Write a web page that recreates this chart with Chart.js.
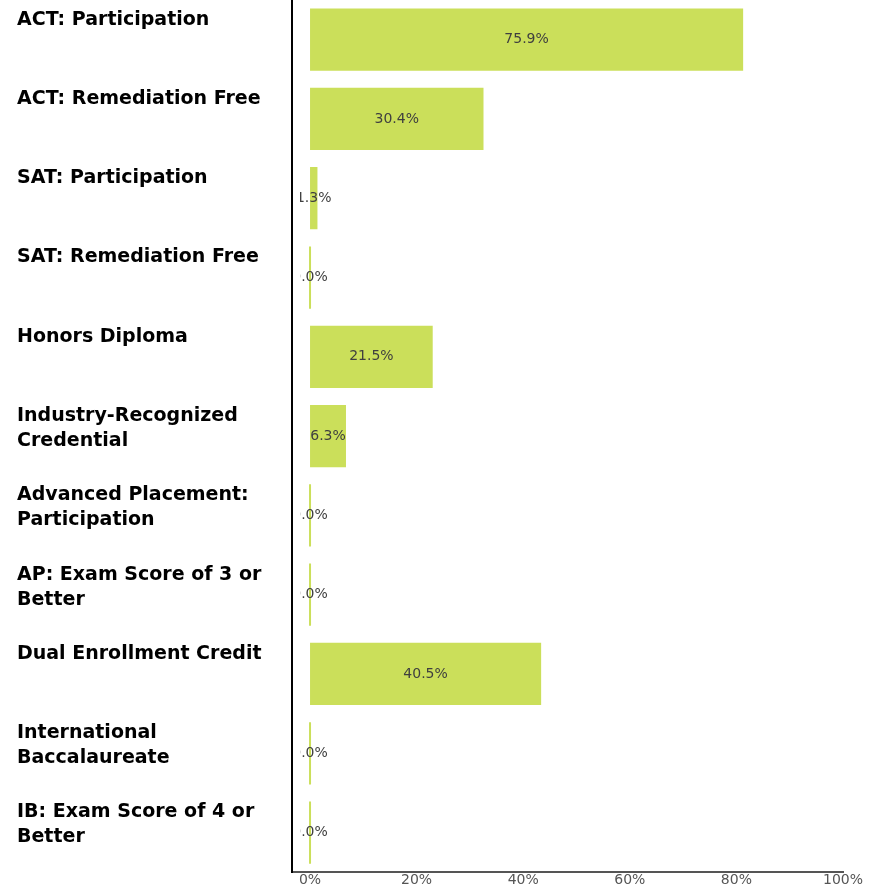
<!DOCTYPE html>
<html>
<head>
<meta charset="utf-8">
<script src="https://cdn.jsdelivr.net/npm/chart.js@4.4.1/dist/chart.umd.min.js"></script>
<style>
  html, body { margin: 0; padding: 0; background: #fff; }
  #wrap { width: 877px; height: 889px; }
</style>
</head>
<body>
<div id="wrap"><canvas id="measuresChart"></canvas></div>
<script>
// College & career readiness measures
const categories = [
  "ACT: Participation",
  "ACT: Remediation Free",
  "SAT: Participation",
  "SAT: Remediation Free",
  "Honors Diploma",
  ["Industry-Recognized", "Credential"],
  ["Advanced Placement:", "Participation"],
  ["AP: Exam Score of 3 or", "Better"],
  "Dual Enrollment Credit",
  ["International", "Baccalaureate"],
  ["IB: Exam Score of 4 or", "Better"]
];
const percents = [75.9, 30.4, 1.3, 0.0, 21.5, 6.3, 0.0, 0.0, 40.5, 0.0, 0.0];
const xTicks = [0, 20, 40, 60, 80, 100];

// value labels inside the bars, clipped just left of the zero line
const barLabels = {
  id: 'barLabels',
  afterDatasetsDraw(chart) {
    const ctx = chart.ctx;
    const area = chart.chartArea;
    const zero = chart.scales.x.getPixelForValue(0);
    const bars = chart.getDatasetMeta(0).data;
    ctx.save();
    ctx.beginPath();
    ctx.rect(zero - 10, area.top, area.right - zero + 10, area.bottom - area.top);
    ctx.clip();
    ctx.font = '14px "DejaVu Sans"';
    ctx.fillStyle = '#3f3f3f';
    ctx.textAlign = 'center';
    ctx.textBaseline = 'middle';
    bars.forEach((bar, i) => {
      ctx.fillText(percents[i].toFixed(1) + '%', (bar.x + bar.base) / 2, bar.y);
    });
    ctx.restore();
  }
};

// row labels sit at the top of each bar, left aligned
const rowLabels = {
  id: 'rowLabels',
  afterDraw(chart) {
    const ctx = chart.ctx;
    const bars = chart.getDatasetMeta(0).data;
    ctx.save();
    ctx.font = 'bold 19px "DejaVu Sans"';
    ctx.fillStyle = '#000';
    ctx.textAlign = 'left';
    ctx.textBaseline = 'alphabetic';
    bars.forEach((bar, i) => {
      const top = bar.y - bar.height / 2;
      [].concat(categories[i]).forEach((line, j) => {
        ctx.fillText(line, 17, top + 16 + j * 25);
      });
    });
    ctx.restore();
  }
};

const ctx = document.getElementById('measuresChart').getContext('2d');
new Chart(ctx, {
  type: 'bar',
  data: {
    labels: categories,
    datasets: [{
      data: percents,
      xAxisID: 'xb',
      backgroundColor: '#cbdf5a',
      borderWidth: 0,
      barPercentage: 0.785,
      categoryPercentage: 1,
      minBarLength: 2
    }]
  },
  options: {
    indexAxis: 'y',
    responsive: true,
    maintainAspectRatio: false,
    animation: false,
    layout: { padding: { left: 0, right: 34, top: 0, bottom: 0 } },
    plugins: {
      legend: { display: false },
      tooltip: { enabled: false }
    },
    scales: {
      x: {
        type: 'linear',
        position: 'bottom',
        min: -3.38,
        max: 100,
        grid: { display: false, drawTicks: false },
        border: { display: true, color: '#555', width: 2 },
        afterBuildTicks(scale) { scale.ticks = xTicks.map(v => ({ value: v })); },
        ticks: {
          color: '#555',
          padding: 0,
          maxRotation: 0,
          font: { size: 14, family: '"DejaVu Sans"' },
          callback: v => v + '%'
        }
      },
      xb: {
        type: 'linear',
        axis: 'x',
        display: false,
        min: -3.16,
        max: 93.4
      },
      y: {
        grid: { display: false, drawTicks: false },
        border: { display: true, color: '#000', width: 2 },
        ticks: { display: false },
        afterFit(scale) { scale.width = 292; }
      }
    }
  },
  plugins: [barLabels, rowLabels]
});
</script>
</body>
</html>
